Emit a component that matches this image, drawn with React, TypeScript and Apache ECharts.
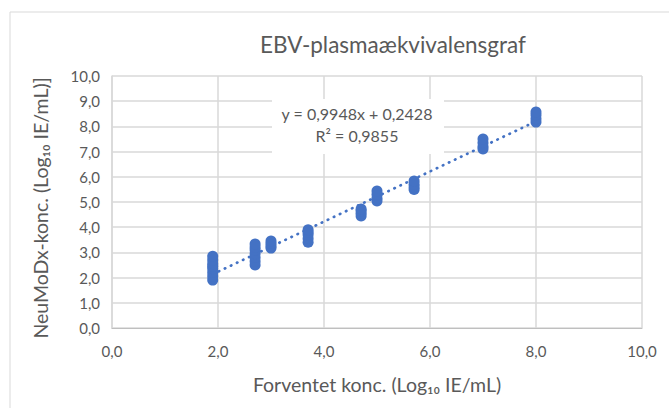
import React, { useEffect, useRef } from "react";
import * as echarts from "echarts";

const expected: number[] = [1.9, 2.7, 3.0, 3.7, 4.7, 5.0, 5.7, 7.0, 8.0];
const measured: number[][] = [
  [1.9, 2.05, 2.2, 2.35, 2.45, 2.55, 2.7, 2.85],
  [2.5, 2.65, 2.8, 2.95, 3.1, 3.2, 3.33],
  [3.17, 3.25, 3.35, 3.45],
  [3.4, 3.55, 3.7, 3.8, 3.9],
  [4.44, 4.55, 4.65, 4.72],
  [5.04, 5.15, 5.3, 5.44],
  [5.5, 5.6, 5.7, 5.83],
  [7.1, 7.2, 7.35, 7.5],
  [8.17, 8.3, 8.45, 8.57],
];
const slope = 0.9948;
const intercept = 0.2428;
const eqText = "y = 0,9948x + 0,2428";
const r2Text = "R² = 0,9855";
const titleText = "EBV-plasmaækvivalensgraf";
const xName = "Forventet konc. (Log₁₀ IE/mL)";
const yName = "NeuMoDx-konc. (Log₁₀ IE/mL)]";

const FONT = "Lato";
const TXT = "#595959";

export default function App() {
  const ref = useRef<HTMLDivElement>(null);
  useEffect(() => {
    if (!ref.current) return;
    const chart = echarts.init(ref.current, null, { renderer: "svg" });
    const pts: number[][] = [];
    expected.forEach((x, i) => measured[i].forEach((y) => pts.push([x, y])));
    const xMin = Math.min(...expected);
    const xMax = Math.max(...expected);
    const fmt = (v: number) => v.toFixed(1).replace(".", ",");
    chart.setOption({
      animation: false,
      backgroundColor: "#fff",
      textStyle: { fontFamily: FONT },
      title: {
        text: titleText,
        left: 388,
        top: 28,
        textAlign: "center",
        textStyle: { color: TXT, fontSize: 22.5, fontWeight: "normal", fontFamily: FONT },
      },
      grid: { left: 112, top: 76, right: 27, bottom: 80 },
      xAxis: {
        type: "value",
        min: 0,
        max: 10,
        interval: 2,
        name: xName,
        nameLocation: "middle",
        nameGap: 46,
        nameTextStyle: { color: TXT, fontSize: 19.5, fontFamily: FONT },
        axisLine: { show: true, lineStyle: { color: "#bfbfbf", width: 1 } },
        axisTick: { show: false },
        axisLabel: { color: TXT, fontSize: 15, margin: 15, formatter: fmt, fontFamily: FONT },
        splitLine: { show: true, lineStyle: { color: "#d9d9d9", width: 1.5 } },
      },
      yAxis: {
        type: "value",
        min: 0,
        max: 10,
        interval: 1,
        name: yName,
        nameLocation: "middle",
        nameGap: 62,
        nameTextStyle: { color: TXT, fontSize: 19.5, fontFamily: FONT, padding: [0, 12, 0, 0] },
        axisLine: { show: true, lineStyle: { color: "#d9d9d9", width: 1.5 } },
        axisTick: { show: false },
        axisLabel: { color: TXT, fontSize: 15, margin: 12, formatter: fmt, fontFamily: FONT },
        splitLine: { show: true, lineStyle: { color: "#d9d9d9", width: 1.5 } },
      },
      series: [
        {
          type: "line",
          data: [
            [xMin, slope * xMin + intercept],
            [xMax, slope * xMax + intercept],
          ],
          showSymbol: false,
          symbol: "none",
          lineStyle: { color: "#4472C4", width: 2.7, type: [0.5, 6.2], cap: "round" },
          z: 2,
        },
        {
          type: "scatter",
          data: pts,
          symbol: "circle",
          symbolSize: 11,
          itemStyle: { color: "#4472C4", opacity: 1 },
          z: 3,
        },
      ],
      graphic: [
        {
          type: "rect",
          shape: { x: 10, y: 12, width: 700, height: 420 },
          style: { fill: "none", stroke: "#d9d9d9", lineWidth: 1 },
          z: 0,
          silent: true,
        },
        {
          type: "rect",
          shape: { x: 272, y: 99, width: 172, height: 55 },
          style: { fill: "#fff" },
          z: 50,
        },
        {
          type: "text",
          x: 357,
          y: 113,
          style: { text: eqText, fill: TXT, fontSize: 16, fontFamily: FONT, align: "center", verticalAlign: "middle" },
          z: 51,
        },
        {
          type: "text",
          x: 357,
          y: 135,
          style: { text: r2Text, fill: TXT, fontSize: 16, fontFamily: FONT, align: "center", verticalAlign: "middle" },
          z: 51,
        },
      ],
    });
    return () => chart.dispose();
  }, []);
  return (
    <div
      ref={ref}
      style={{ position: "fixed", left: 0, top: 0, width: 669, height: 408 }}
    />
  );
}
